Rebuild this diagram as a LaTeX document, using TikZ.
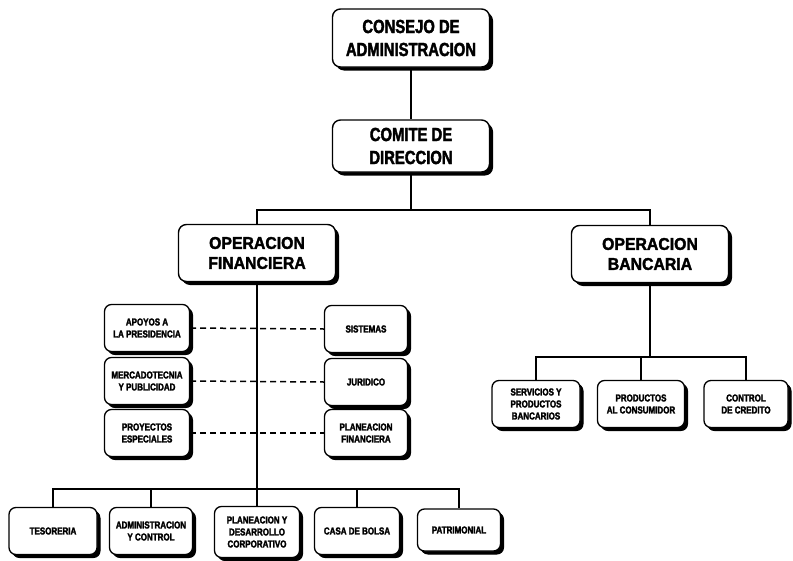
\documentclass[tikz,border=0pt]{standalone}
\usepackage{fontspec}
\setmainfont{Liberation Sans}
\newfontfamily\tallface{Liberation Sans}[UprightFont=* Bold, FakeStretch=0.78, FakeBold=2]
\newfontfamily\wideface{Liberation Sans}[UprightFont=* Bold, FakeStretch=0.93, FakeBold=2]
\newfontfamily\smallface{Liberation Sans}[UprightFont=* Bold, FakeStretch=0.8, FakeBold=2.5]
\usetikzlibrary{shadows}

\tikzset{
  unit/.style={draw, line width=1.4pt, rounded corners=8pt, fill=white,
    align=center, inner sep=0pt,
    drop shadow={fill=black, opacity=1, shadow xshift=3.5pt, shadow yshift=-3.5pt}},
  topbox/.style={unit, minimum width=157pt, minimum height=58pt,
    font=\tallface\fontsize{19}{23}\selectfont},
  midbox/.style={unit, minimum width=157pt, minimum height=57pt,
    font=\wideface\fontsize{17}{20}\selectfont},
  smallbox/.style={unit, line width=1.3pt, rounded corners=7pt,
    minimum width=85pt, minimum height=47pt,
    drop shadow={fill=black, opacity=1, shadow xshift=3pt, shadow yshift=-3pt},
    font=\smallface\fontsize{10}{12}\selectfont},
  link/.style={line width=1.3pt},
  staff/.style={line width=1.5pt, dash pattern=on 6pt off 4pt},
}

\begin{document}
\begin{tikzpicture}[x=1pt, y=-1pt]
  \useasboundingbox (0,0) rectangle (793,560);

  % top of the hierarchy
  \node[topbox] (cons) at (411,38) {CONSEJO DE\\ADMINISTRACION};
  \node[topbox, minimum height=52pt] (comite) at (411,146) {COMITE DE\\DIRECCION};

  % the two operating branches
  \node[midbox] (of) at (257,253) {OPERACION\\FINANCIERA};
  \node[midbox] (ob) at (650,254) {OPERACION\\BANCARIA};

  % staff units of the financial branch
  \node[smallbox] (apoyos) at (147,328) {APOYOS A\\LA PRESIDENCIA};
  \node[smallbox] (merc)   at (147,381) {MERCADOTECNIA\\Y PUBLICIDAD};
  \node[smallbox] (proy)   at (147,433) {PROYECTOS\\ESPECIALES};
  \node[smallbox, minimum width=83pt] (sist)  at (366,329) {SISTEMAS};
  \node[smallbox, minimum width=83pt] (jur)   at (366,382) {JURIDICO};
  \node[smallbox, minimum width=83pt] (planf) at (366,433) {PLANEACION\\FINANCIERA};

  % line units of the financial branch
  \node[smallbox, minimum width=88pt] (tes)  at (53,531)  {TESORERIA};
  \node[smallbox, minimum width=83pt] (adm)  at (151,531) {ADMINISTRACION\\Y CONTROL};
  \node[smallbox, minimum height=51pt] (plan) at (257,532) {PLANEACION Y\\DESARROLLO\\CORPORATIVO};
  \node[smallbox] (casa) at (357,531) {CASA DE BOLSA};
  \node[smallbox, minimum width=83pt, minimum height=42pt] (patr) at (459,530) {PATRIMONIAL};

  % units of the banking branch
  \node[smallbox, minimum width=88pt] (serv)  at (536,404) {SERVICIOS Y\\PRODUCTOS\\BANCARIOS};
  \node[smallbox, minimum width=87pt] (prodc) at (641,404) {PRODUCTOS\\AL CONSUMIDOR};
  \node[smallbox, minimum width=84pt] (ctrl)  at (746,404) {CONTROL\\DE CREDITO};

  % junction levels
  \coordinate (topj) at (0,210);
  \coordinate (finj) at (0,489);
  \coordinate (banj) at (0,357);

  % connectors
  \draw[link] (cons) -- (comite);
  \draw[link] (comite.south) -- (comite.south |- topj);
  \draw[link] (of.north) -- (of.north |- topj) -- (ob.north |- topj) -- (ob.north);

  \draw[link] (of.south) -- (plan.north);
  \draw[link] (tes.north) -- (tes.north |- finj) -- (patr.north |- finj) -- (patr.north);
  \draw[link] (adm.north) -- (adm.north |- finj);
  \draw[link] (casa.north) -- (casa.north |- finj);

  \draw[link] (ob.south) -- (ob.south |- banj);
  \draw[link] (serv.north) -- (serv.north |- banj) -- (ctrl.north |- banj) -- (ctrl.north);
  \draw[link] (prodc.north) -- (prodc.north |- banj);

  % dashed staff relations
  \draw[staff] (apoyos.east) -- (sist.west);
  \draw[staff] (merc.east) -- (jur.west);
  \draw[staff] (proy.east) -- (planf.west);
\end{tikzpicture}
\end{document}
